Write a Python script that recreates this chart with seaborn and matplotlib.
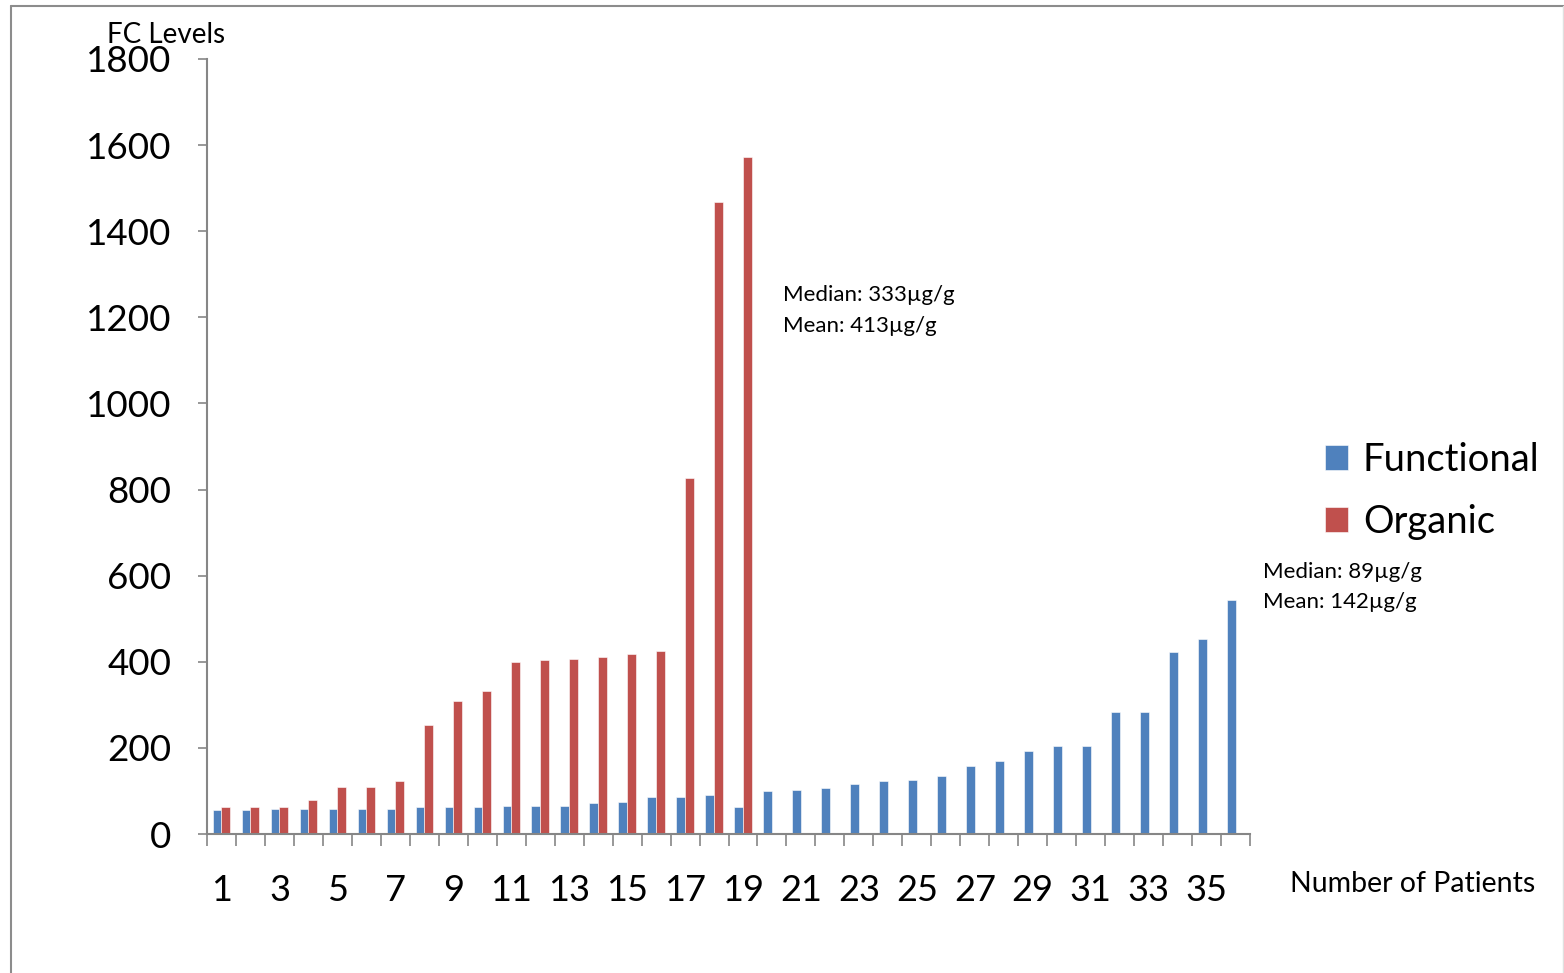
import numpy as np
import pandas as pd
import matplotlib
matplotlib.use("Agg")
import matplotlib.pyplot as plt
from matplotlib.lines import Line2D
from matplotlib.ticker import FixedLocator
import seaborn as sns

# FC levels per patient (µg/g)
patients = [str(i) for i in range(1, 37)]
functional = [55, 55, 58, 58, 58, 58, 58, 62, 62, 62, 66, 66, 66, 72, 75, 87, 87, 91,
              63, 99, 103, 107, 115, 122, 126, 135, 158, 170, 193, 205, 205, 284, 284,
              423, 454, 544]
organic = [62, 62, 62, 78, 110, 110, 122, 253, 308, 333, 399, 403, 407, 410, 418, 426,
           828, 1467, 1573]
groups = ["Functional", "Organic"]
colors = ["#4F81BD", "#C0504D"]
y_ticks = [0, 200, 400, 600, 800, 1000, 1200, 1400, 1600, 1800]
organic_note = ["Median: 333µg/g", "Mean: 413µg/g"]
functional_note = ["Median: 89µg/g", "Mean: 142µg/g"]

organic_full = organic + [np.nan] * (len(patients) - len(organic))
df = pd.DataFrame({
    "patient": patients * 2,
    "group": [groups[0]] * len(patients) + [groups[1]] * len(patients),
    "value": functional + organic_full,
})

sns.set_theme(style="white")
plt.rcParams["font.family"] = ["Lato", "DejaVu Sans"]
plt.rcParams["text.color"] = "black"
plt.rcParams["xtick.labelcolor"] = "black"
plt.rcParams["ytick.labelcolor"] = "black"

W, H = 1564, 973
fig = plt.figure(figsize=(W / 100, H / 100), dpi=100)
ax = fig.add_axes([207 / W, 1 - 834 / H, (1250 - 207) / W, (834 - 59) / H])

sns.barplot(data=df, x="patient", y="value", hue="group", order=patients,
            hue_order=groups, palette=colors, width=0.6, dodge=True,
            saturation=1, errorbar=None, ax=ax, legend=True)

for p in ax.patches:
    p.set_edgecolor("white")
    p.set_linewidth(0.4)

ax.set_xlim(-0.5, len(patients) - 0.5)
ax.set_ylim(0, 1800)
ax.set_yticks(y_ticks)
ax.set_yticklabels([str(t) for t in y_ticks], fontsize=26.5, color="black")

# boundary ticks between categories, labels on every other patient
ax.xaxis.set_major_locator(FixedLocator(np.arange(-0.5, len(patients), 1.0)))
ax.set_xticklabels([])
ax.xaxis.set_minor_locator(FixedLocator(np.arange(0, len(patients), 2)))
ax.set_xticklabels(patients[::2], minor=True, fontsize=26, color="black")
ax.tick_params(axis="x", which="major", bottom=True, direction="out", length=8.5,
               width=1.2, color="#868686")
ax.tick_params(axis="x", which="minor", bottom=False, length=0, pad=29)
ax.tick_params(axis="y", which="major", left=True, direction="out", length=6.5,
               width=1.2, color="#868686", pad=19)
ax.set_xlabel("")
ax.set_ylabel("")

for side in ["top", "right"]:
    ax.spines[side].set_visible(False)
for side in ["left", "bottom"]:
    ax.spines[side].set_color("#868686")
    ax.spines[side].set_linewidth(1.5)

# legend
handles, labels = ax.get_legend_handles_labels()
leg = ax.legend(handles, labels, loc="center left",
                bbox_to_anchor=(1291 / W, 1 - 491 / H),
                bbox_transform=fig.transFigure, frameon=False, fontsize=27.5,
                handlelength=0.6, handleheight=0.6, handletextpad=0.38,
                labelspacing=0.68)
for t in leg.get_texts():
    t.set_color("black")

# axis titles
fig.text(107 / W, 1 - 35 / H, "FC Levels", fontsize=20, ha="left", va="center")
fig.text(1290 / W, 1 - 884 / H, "Number of Patients", fontsize=20.5, ha="left",
         va="center")

# summary statistics
for i, line in enumerate(organic_note):
    fig.text(783 / W, 1 - (295 + 31 * i) / H, line, fontsize=16, ha="left",
             va="center")
for i, line in enumerate(functional_note):
    fig.text(1263 / W, 1 - (572 + 30 * i) / H, line, fontsize=16, ha="left",
             va="center")

# chart frame
fig.add_artist(Line2D([11 / W, 11 / W], [0, 1 - 6 / H], transform=fig.transFigure,
                      color="#8c8c8c", linewidth=1.5))
fig.add_artist(Line2D([11 / W, 1], [1 - 6 / H, 1 - 6 / H], transform=fig.transFigure,
                      color="#8c8c8c", linewidth=1.5))
fig.add_artist(Line2D([1 - 1.5 / W, 1 - 1.5 / W], [0, 1 - 6 / H],
                      transform=fig.transFigure, color="#e0e0e0", linewidth=1.0))

fig.savefig("out.png", dpi=100, facecolor="white")
